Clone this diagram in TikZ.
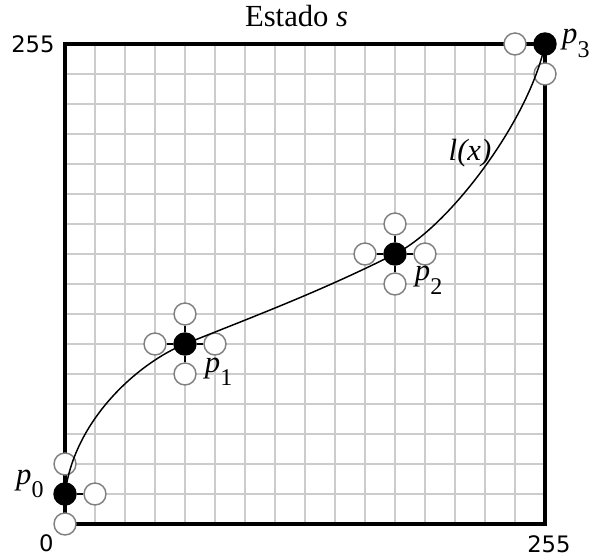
\documentclass[tikz,border=0pt]{standalone}
\usepackage{fontspec}
\setmainfont{Liberation Serif}
\setsansfont{DejaVu Sans}
\newcommand{\knotname}[1]{\textit{p}\raisebox{-10pt}{\fontsize{18}{20}\selectfont #1}}

\begin{document}
\begin{tikzpicture}[
    x=22.5pt, y=22.5pt,
    gridline/.style  = {draw=gray!40, line width=0.9pt},
    frame/.style     = {draw=black, line width=3pt},
    knot/.style      = {circle, fill=black, minimum size=17.6pt, inner sep=0pt},
    handle/.style    = {circle, draw=gray, fill=white, line width=1.1pt,
                        minimum size=16.5pt, inner sep=0pt},
    arm/.style       = {draw=black, line width=1.4pt},
    curve/.style     = {draw=black, line width=1.1pt},
    axislabel/.style = {font=\sffamily\fontsize{17}{19}\selectfont,
                        inner sep=0pt},
    textlabel/.style = {font=\fontsize{23}{26}\selectfont, inner sep=0pt,
                        anchor=base},
  ]
  \useasboundingbox (-2.1667,-1.1) rectangle (17.5,17.4667);

  \draw[gridline, step=1] (0,0) grid (16,16);
  \draw[frame] (0,0) rectangle (16,16);

  \node[handle] (p0n) at (0.000, 2.000) {};
  \node[handle] (p0e) at (1.000, 1.000) {};
  \node[handle] (p0s) at (0.000, 0.000) {};
  \node[knot]   (p0)  at (0.000, 1.000) {};
  \node[handle] (p1n) at (4.000, 7.000) {};
  \node[handle] (p1e) at (5.000, 6.000) {};
  \node[handle] (p1s) at (4.000, 5.000) {};
  \node[handle] (p1w) at (3.000, 6.000) {};
  \node[knot]   (p1)  at (4.000, 6.000) {};
  \node[handle] (p2n) at (11.000, 10.000) {};
  \node[handle] (p2e) at (12.000, 9.000) {};
  \node[handle] (p2s) at (11.000, 8.000) {};
  \node[handle] (p2w) at (10.000, 9.000) {};
  \node[knot]   (p2)  at (11.000, 9.000) {};
  \node[handle] (p3w) at (15.000, 16.000) {};
  \node[handle] (p3s) at (16.000, 15.000) {};
  \node[knot]   (p3)  at (16.000, 16.000) {};

  \draw[arm] (p0) -- (p0n);
  \draw[arm] (p0) -- (p0e);
  \draw[arm] (p0) -- (p0s);
  \draw[arm] (p1) -- (p1n);
  \draw[arm] (p1) -- (p1e);
  \draw[arm] (p1) -- (p1s);
  \draw[arm] (p1) -- (p1w);
  \draw[arm] (p2) -- (p2n);
  \draw[arm] (p2) -- (p2e);
  \draw[arm] (p2) -- (p2s);
  \draw[arm] (p2) -- (p2w);
  \draw[arm] (p3) -- (p3w);
  \draw[arm] (p3) -- (p3s);

  \draw[curve] (p0.center) .. controls (0.3, 3.5) and (2.5, 5.4) .. (p1.center)
               .. controls (6.5, 7.0) and (8.5, 7.75) .. (p2.center)
               .. controls (12.8, 9.9) and (15.5, 13.5) .. (p3.center);

  \node[axislabel] (ymax) at (-1.07, 15.98) {255};
  \node[axislabel] (xmin) at (-0.62, -0.65) {0};
  \node[axislabel] (xmax) at (16.13, -0.67) {255};
  \node[textlabel] (title) at (7.72, 16.57) {Estado \textit{s}};
  \node[textlabel] (p0lab) at (-1.17, 1.33) {\knotname{0}};
  \node[textlabel] (p1lab) at (5.12, 5.05) {\knotname{1}};
  \node[textlabel] (p2lab) at (12.12, 8.10) {\knotname{2}};
  \node[textlabel] (p3lab) at (17.03, 16.00) {\knotname{3}};
  \node[textlabel] (llab) at (13.50, 12.10) {\textit{l(x)}};

\end{tikzpicture}
\end{document}
